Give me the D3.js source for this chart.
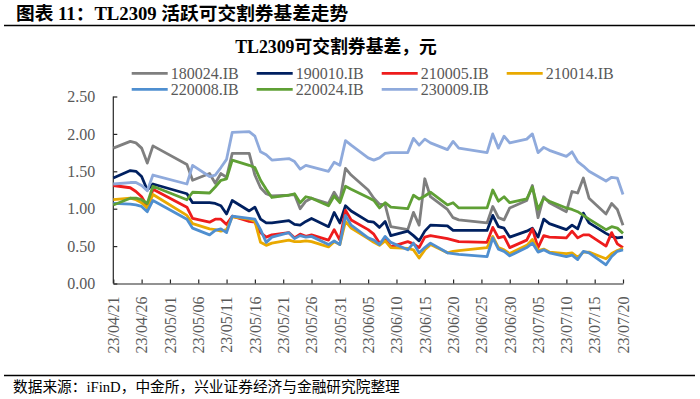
<!DOCTYPE html>
<html>
<head>
<meta charset="utf-8">
<script src="https://cdn.jsdelivr.net/npm/d3@7"></script>
<style>
body{margin:0;background:#fff;}
svg text{font-family:"Liberation Serif","Noto Sans CJK SC",serif;}
</style>
</head>
<body>
<script>
// trading days shown in the chart
var dates=["2023-04-21","2023-04-24","2023-04-25","2023-04-26","2023-04-27","2023-04-28",
"2023-05-04","2023-05-05","2023-05-08","2023-05-09","2023-05-10","2023-05-11","2023-05-12",
"2023-05-15","2023-05-16","2023-05-17","2023-05-18","2023-05-19",
"2023-05-22","2023-05-23","2023-05-24","2023-05-25","2023-05-26",
"2023-05-29","2023-05-30","2023-05-31","2023-06-01","2023-06-02",
"2023-06-05","2023-06-06","2023-06-07","2023-06-08","2023-06-09",
"2023-06-12","2023-06-13","2023-06-14","2023-06-15","2023-06-16",
"2023-06-19","2023-06-20","2023-06-21",
"2023-06-26","2023-06-27","2023-06-28","2023-06-29","2023-06-30",
"2023-07-03","2023-07-04","2023-07-05","2023-07-06","2023-07-07",
"2023-07-10","2023-07-11","2023-07-12","2023-07-13","2023-07-14",
"2023-07-17","2023-07-18","2023-07-19","2023-07-20"];

var b180024=[1.81,1.90,1.88,1.81,1.61,1.84, 1.59,1.38,1.47,1.34,1.47,1.42,1.74, 1.74,1.45,1.28,1.20,1.17, 1.18,1.19,1.00,1.10,1.14, 1.07,1.22,1.10,1.54,1.45, 1.25,1.14,1.06,1.05,0.76, 0.72,0.95,0.78,1.40,1.16, 0.99,0.88,0.85, 0.81,1.03,0.88,0.85,1.01, 1.11,1.31,0.88,1.16,1.08, 0.96,1.23,1.21,1.41,1.14, 0.93,1.07,0.99,0.78];
var b190010=[1.41,1.51,1.50,1.43,1.25,1.33, 1.20,1.08,1.08,1.07,1.04,0.93,1.11, 0.97,1.02,0.86,0.81,0.81, 0.84,0.79,0.78,0.83,0.87, 0.76,0.95,0.81,1.04,0.97, 0.83,0.82,0.75,0.83,0.64, 0.70,0.64,0.57,0.70,0.78, 0.77,0.71,0.71, 0.71,0.91,0.76,0.74,0.62, 0.70,0.74,0.62,0.86,0.80, 0.72,0.78,0.73,0.94,0.81, 0.67,0.63,0.61,0.62];
var b210005=[1.31,1.28,1.23,1.16,1.03,1.26, 1.02,0.87,0.82,0.86,0.86,0.79,0.90, 0.83,0.82,0.68,0.62,0.65, 0.68,0.61,0.66,0.63,0.65, 0.58,0.72,0.58,0.98,0.85, 0.72,0.66,0.54,0.59,0.49, 0.56,0.53,0.48,0.62,0.64, 0.60,0.58,0.56, 0.55,0.75,0.61,0.63,0.48, 0.58,0.73,0.48,0.64,0.62, 0.61,0.70,0.61,0.65,0.65, 0.50,0.68,0.53,0.48];
var b210014=[1.12,1.14,1.12,1.08,1.01,1.19, 0.91,0.80,0.73,0.72,0.70,0.72,0.89, 0.86,0.83,0.55,0.51,0.54, 0.58,0.56,0.56,0.57,0.56, 0.49,0.56,0.52,0.83,0.74, 0.60,0.55,0.51,0.57,0.48, 0.47,0.45,0.34,0.45,0.52, 0.41,0.43,0.44, 0.48,0.63,0.48,0.45,0.40, 0.51,0.59,0.44,0.46,0.42, 0.40,0.41,0.35,0.42,0.42, 0.33,0.40,0.44,0.47];
var b220008=[1.07,1.06,1.05,1.03,0.96,1.11, 0.86,0.74,0.65,0.71,0.73,0.68,0.90, 0.87,0.86,0.72,0.55,0.62, 0.68,0.60,0.64,0.62,0.63, 0.52,0.57,0.52,0.91,0.78, 0.61,0.58,0.52,0.63,0.55, 0.45,0.54,0.41,0.48,0.54, 0.41,0.40,0.39, 0.36,0.61,0.46,0.43,0.37, 0.48,0.54,0.42,0.45,0.41, 0.36,0.38,0.32,0.43,0.41, 0.25,0.36,0.43,0.45];
var b220024=[1.05,1.14,1.14,1.12,1.07,1.30, 1.12,1.22,1.21,1.29,1.38,1.40,1.65, 1.58,1.55,1.38,1.26,1.15, 1.18,1.20,1.08,1.16,1.14, 1.04,1.17,1.08,1.30,1.26, 1.15,1.11,1.01,1.08,1.02, 1.00,1.18,1.13,1.17,1.22, 1.05,1.08,1.01, 1.01,1.25,1.10,1.16,1.08, 1.13,1.29,0.99,1.14,1.10, 1.01,0.99,0.96,0.91,0.86, 0.72,0.76,0.74,0.67];
var b230009=[1.33,1.35,1.35,1.31,1.24,1.45, 1.33,1.58,1.43,1.45,1.55,1.66,2.02, 2.03,1.97,1.76,1.72,1.65, 1.67,1.63,1.53,1.58,1.56, 1.50,1.62,1.58,1.91,1.85, 1.68,1.65,1.68,1.74,1.75, 1.75,1.94,1.85,1.93,1.88, 1.79,1.90,1.81, 1.75,2.00,1.81,1.97,1.88, 1.93,2.00,1.75,1.82,1.78, 1.70,1.76,1.63,1.57,1.50, 1.37,1.42,1.41,1.19];

var names=["180024.IB","190010.IB","210005.IB","210014.IB","220008.IB","220024.IB","230009.IB"];
var colors=["#7f7f7f","#002060","#ee1c1c","#e9a900","#4f8fd0","#5fa035","#8faadc"];
var xTickLabels=["23/04/21","23/04/26","23/05/01","23/05/06","23/05/11","23/05/16","23/05/21","23/05/26","23/05/31",
"23/06/05","23/06/10","23/06/15","23/06/20","23/06/25","23/06/30","23/07/05","23/07/10","23/07/15","23/07/20"];
var yTicks=[0,0.5,1,1.5,2,2.5];

var seriesValues=[b180024,b190010,b210005,b210014,b220008,b220024,b230009];

var width=700, height=399;
var svg=d3.select("body").append("svg")
    .attr("width",width)
    .attr("height",height);

var parseDay=d3.timeParse("%Y-%m-%d");
var parseTick=d3.timeParse("%y/%m/%d");
var days=dates.map(parseDay);
var tickDays=xTickLabels.map(parseTick);

var plot={left:113.3, right:623, top:96.5, bottom:283.5};

var x=d3.scaleTime()
    .domain([tickDays[0],tickDays[tickDays.length-1]])
    .range([plot.left,plot.right]);
var y=d3.scaleLinear()
    .domain([0,2.5])
    .range([plot.bottom,plot.top]);

// page title + rules
svg.append("text")
    .attr("x",16).attr("y",20)
    .attr("font-size","18.7px").attr("font-weight","bold").attr("fill","#000")
    .text("图表 11：TL2309 活跃可交割券基差走势");
svg.append("line")
    .attr("x1",4).attr("x2",695).attr("y1",25.5).attr("y2",25.5)
    .attr("stroke","#000").attr("stroke-width",1.3);
svg.append("line")
    .attr("x1",4).attr("x2",695).attr("y1",375.5).attr("y2",375.5)
    .attr("stroke","#000").attr("stroke-width",1.3);
svg.append("text")
    .attr("x",13).attr("y",392)
    .attr("font-size","14.7px").attr("fill","#000")
    .text("数据来源：iFinD，中金所，兴业证券经济与金融研究院整理");

// chart title
svg.append("text")
    .attr("x",336).attr("y",53)
    .attr("text-anchor","middle")
    .attr("font-size","17.8px").attr("font-weight","bold").attr("fill","#000")
    .text("TL2309可交割券基差，元");

// axes
var yAxis=d3.axisLeft(y)
    .tickValues(yTicks)
    .tickFormat(d3.format(".2f"))
    .tickSize(-4)
    .tickPadding(18);
var gy=svg.append("g")
    .attr("transform","translate("+plot.left+",0)")
    .call(yAxis);

var xAxis=d3.axisBottom(x)
    .tickValues(tickDays)
    .tickFormat(function(d,i){return xTickLabels[i];})
    .tickSize(-4)
    .tickSizeOuter(0);
var gx=svg.append("g")
    .attr("transform","translate(0,"+plot.bottom+")")
    .call(xAxis);
gx.selectAll("text")
    .attr("transform","rotate(-90)")
    .attr("x",-13)
    .attr("y",0)
    .attr("dy","0.33em")
    .style("text-anchor","end");

svg.selectAll(".tick text")
    .attr("font-size","16px")
    .attr("fill","#595959")
    .style("font-family","Liberation Serif");
svg.selectAll(".domain").attr("stroke","#262626").attr("stroke-width",1.2);
svg.selectAll(".tick line").attr("stroke","#262626").attr("stroke-width",1.2);
gy.select(".domain").attr("d","M0,"+plot.bottom+"V"+plot.top);

// lines
var line=d3.line()
    .x(function(d,i){return x(days[i]);})
    .y(function(d){return y(d);});

svg.selectAll("path.series")
    .data(seriesValues)
    .enter()
    .append("path")
    .attr("class","series")
    .attr("fill","none")
    .attr("stroke",function(d,i){return colors[i];})
    .attr("stroke-width",2.8)
    .attr("stroke-linejoin","round")
    .attr("d",line);

// legend, 4 per row
var legend=svg.selectAll("g.legend")
    .data(names)
    .enter()
    .append("g")
    .attr("class","legend")
    .attr("transform",function(d,i){
        return "translate("+(131.7+(i%4)*125)+","+(73.3+Math.floor(i/4)*16)+")";
    });
legend.append("line")
    .attr("x1",0).attr("x2",36)
    .attr("stroke",function(d,i){return colors[i];})
    .attr("stroke-width",2.8);
legend.append("text")
    .attr("x",39).attr("dy","0.35em")
    .attr("font-size","16px").attr("fill","#595959")
    .text(function(d){return d;});
</script>
</body>
</html>
